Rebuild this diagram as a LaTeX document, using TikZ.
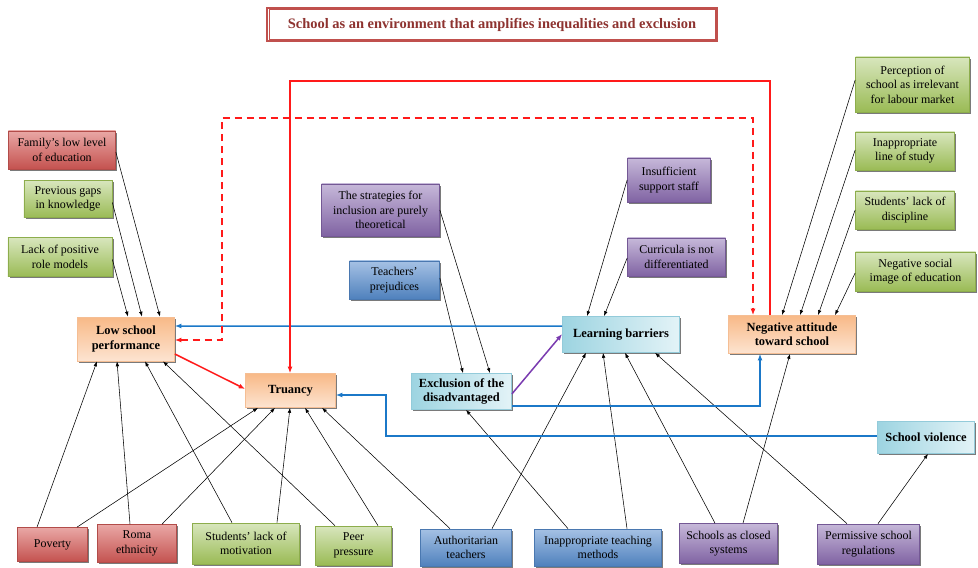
\documentclass[tikz,border=0pt]{standalone}
\usepackage{fontspec}
\setmainfont{Liberation Serif}
\usetikzlibrary{arrows.meta,shadows,calc}
\definecolor{redT}{HTML}{E9A7A5}
\definecolor{redM}{HTML}{C4524F}
\definecolor{redB}{HTML}{B24C49}
\definecolor{grnT}{HTML}{D8E6BD}
\definecolor{grnM}{HTML}{9ABB55}
\definecolor{grnB}{HTML}{8DAD4C}
\definecolor{purT}{HTML}{C6B8D9}
\definecolor{purM}{HTML}{8063A3}
\definecolor{purB}{HTML}{745895}
\definecolor{bluT}{HTML}{A5C1E4}
\definecolor{bluM}{HTML}{4F81BD}
\definecolor{bluB}{HTML}{4A78B0}
\definecolor{cyD}{HTML}{9DD4E1}
\definecolor{cyL}{HTML}{E3F3F7}
\definecolor{cyB}{HTML}{93CBDA}
\definecolor{orD}{HTML}{F8B987}
\definecolor{orL}{HTML}{FDE4D1}
\definecolor{orB}{HTML}{F5BE94}
\definecolor{titleRed}{HTML}{C0504D}
\definecolor{titleTxt}{HTML}{8E3330}
\definecolor{flowBlue}{HTML}{1B78C8}
\definecolor{flowRed}{HTML}{FF1A1A}
\definecolor{flowPur}{HTML}{7A3BB0}
\begin{document}
\begin{tikzpicture}[x=1bp,y=-1bp,
  base/.style={rectangle, draw, line width=0.7bp, align=center, inner sep=1bp,
    font=\fontsize{12}{14.5}\selectfont,
    drop shadow={shadow xshift=1.8bp,shadow yshift=-1.8bp,fill=black!80,opacity=0.65}},
  redbox/.style={base, draw=redB, top color=redT, bottom color=redM},
  grnbox/.style={base, draw=grnB, top color=grnT, bottom color=grnM},
  purbox/.style={base, draw=purB, top color=purT, bottom color=purM},
  blubox/.style={base, draw=bluB, top color=bluT, bottom color=bluM},
  cybox/.style={base, draw=cyB, left color=cyD, right color=cyL,
    font=\fontsize{12.5}{14.5}\selectfont\bfseries},
  orbox/.style={base, draw=orB, top color=orD, bottom color=orL,
    font=\fontsize{12.5}{14.5}\selectfont\bfseries},
  conn/.style={-{Latex[length=5bp,width=3.6bp]}, line width=0.55bp, black},
  bflow/.style={-{Latex[length=6.5bp,width=5bp]}, line width=1.5bp, flowBlue},
  rflow/.style={-{Latex[length=6.5bp,width=5bp]}, line width=1.5bp, flowRed},
  rdflow/.style={{Latex[length=6.5bp,width=5bp]}-{Latex[length=6.5bp,width=5bp]}, line width=1.5bp, flowRed, dash pattern=on 7bp off 5bp},
  pflow/.style={-{Latex[length=6.5bp,width=5bp]}, line width=1.5bp, flowPur},
]
\useasboundingbox[fill=white] (0,0) rectangle (978,568);

% title
\node[draw=titleRed, line width=2.6bp, fill=white, minimum width=450bp, minimum height=33bp,
  text=titleTxt, font=\fontsize{14.5}{16}\selectfont\bfseries] (title) at (492,24.5)
  {School as an environment that amplifies inequalities and exclusion};
\draw[titleRed, line width=0.8bp] ([shift={(3.2bp,-3.2bp)}]title.north west) rectangle ([shift={(-3.2bp,3.2bp)}]title.south east);

% left column
\node[redbox, minimum width=107bp, minimum height=38bp] (fam) at (62,150) {Family’s low level\\of education};
\node[grnbox, minimum width=88bp, minimum height=37bp] (prev) at (68,199) {Previous gaps\\in knowledge};
\node[grnbox, minimum width=104bp, minimum height=39bp] (lack) at (60,257) {Lack of positive\\role models};
\node[orbox, minimum width=97bp, minimum height=44bp] (lsp) at (126,339) {Low school\\performance};
\node[orbox, minimum width=90bp, minimum height=34bp] (tru) at (290.5,390.5) {Truancy};

% middle
\node[purbox, minimum width=118bp, minimum height=52bp] (strat) at (380.5,210) {The strategies for\\inclusion are purely\\theoretical};
\node[blubox, minimum width=90bp, minimum height=38bp] (tprej) at (394.5,280) {Teachers’\\prejudices};
\node[cybox, minimum width=100bp, minimum height=36bp] (excl) at (461.5,391.5) {Exclusion of the\\disadvantaged};
\node[purbox, minimum width=83bp, minimum height=44bp] (insuf) at (669,180) {Insufficient\\support staff};
\node[purbox, minimum width=98bp, minimum height=38bp] (curr) at (676.5,257) {Curricula is not\\differentiated};
\node[cybox, minimum width=117bp, minimum height=36bp] (lb) at (621,334.5) {Learning barriers};
\node[orbox, minimum width=127bp, minimum height=38bp] (na) at (792,334.5) {Negative attitude\\toward school};

% right column
\node[grnbox, minimum width=114bp, minimum height=55bp] (perc) at (912.5,84.5) {Perception of\\school as irrelevant\\for labour market};
\node[grnbox, minimum width=99bp, minimum height=38bp] (inap) at (905,151) {Inappropriate\\line of study};
\node[grnbox, minimum width=99bp, minimum height=38bp] (disc) at (905,210) {Students’ lack of\\discipline};
\node[grnbox, minimum width=120bp, minimum height=39bp] (negsoc) at (915.5,271.5) {Negative social\\image of education};
\node[cybox, minimum width=97bp, minimum height=32bp] (sv) at (926,437.5) {School violence};

% bottom row
\node[redbox, minimum width=70bp, minimum height=34bp] (pov) at (52.5,544.5) {Poverty};
\node[redbox, minimum width=79bp, minimum height=38bp] (roma) at (137,543.5) {Roma\\ethnicity};
\node[grnbox, minimum width=107bp, minimum height=41bp] (stud) at (246,543.5) {Students’ lack of\\motivation};
\node[grnbox, minimum width=76bp, minimum height=39bp] (peer) at (353.5,545.5) {Peer\\pressure};
\node[blubox, minimum width=91bp, minimum height=37bp] (auth) at (466,547.5) {Authoritarian\\teachers};
\node[blubox, minimum width=127bp, minimum height=37bp] (itm) at (598,547.5) {Inappropriate teaching\\methods};
\node[purbox, minimum width=98bp, minimum height=40bp] (closed) at (728.5,543.5) {Schools as closed\\systems};
\node[purbox, minimum width=102bp, minimum height=40bp] (perm) at (868.5,544) {Permissive school\\regulations};

% black connectors
\draw[conn] ([yshift=-2bp]fam.east) -- ([xshift=34bp]lsp.north);
\draw[conn] ([yshift=-3.5bp]prev.east) -- ([xshift=16bp]lsp.north);
\draw[conn] ([yshift=-2.5bp]lack.east) -- ([xshift=2bp]lsp.north);
\draw[conn] ([xshift=-15.5bp]pov.north) -- ([xshift=-29bp]lsp.south);
\draw[conn] ([xshift=-7bp]roma.north) -- ([xshift=-9bp]lsp.south);
\draw[conn] ([xshift=-14bp]stud.north) -- ([xshift=19bp]lsp.south);
\draw[conn] ([xshift=-18.5bp]peer.north) -- ([xshift=37bp]lsp.south);
\draw[conn] ([xshift=24.5bp]pov.north) -- ([xshift=-32.5bp]tru.south);
\draw[conn] ([xshift=25bp]roma.north) -- ([xshift=-15.5bp]tru.south);
\draw[conn] ([xshift=31bp]stud.north) -- ([xshift=-0.5bp]tru.south);
\draw[conn] ([xshift=24.5bp]peer.north) -- ([xshift=14.5bp]tru.south);
\draw[conn] ([xshift=-16bp]auth.north) -- ([xshift=31.5bp]tru.south);
\draw[conn] ([xshift=26bp]auth.north) -- ([xshift=-35bp]lb.south);
\draw[conn] ([xshift=-30bp]itm.north) -- ([xshift=4.5bp]excl.south);
\draw[conn] ([xshift=29bp]itm.north) -- ([xshift=-18bp]lb.south);
\draw[conn] ([xshift=-13.5bp]closed.north) -- ([xshift=4bp]lb.south);
\draw[conn] ([xshift=14.5bp]closed.north) -- ([xshift=-2bp]na.south);
\draw[conn] ([xshift=-21.5bp]perm.north) -- ([xshift=34bp]lb.south);
\draw[conn] ([xshift=9.5bp]perm.north) -- ([xshift=2bp]sv.south);
\draw[conn] (strat.east) -- ([xshift=28.5bp]excl.north);
\draw[conn] ([yshift=2bp]tprej.east) -- ([xshift=1.5bp]excl.north);
\draw[conn] (insuf.west) -- ([xshift=-34bp]lb.north);
\draw[conn] ([yshift=-1bp]curr.west) -- ([xshift=-17bp]lb.north);
\draw[conn] ([yshift=4.5bp]perc.west) -- ([xshift=-10bp]na.north);
\draw[conn] ([yshift=1bp]inap.west) -- ([xshift=8bp]na.north);
\draw[conn] (disc.west) -- ([xshift=26bp]na.north);
\draw[conn] ([yshift=-1.5bp]negsoc.west) -- ([xshift=43bp]na.north);

% coloured flows
\draw[pflow] ([yshift=-2.5bp]excl.east) -- ([yshift=0.5bp]lb.west);
\draw[bflow] ([yshift=8.5bp]lb.west) -- ([yshift=13bp]lsp.east);
\draw[bflow] ([yshift=-14.5bp]excl.east) -| ([xshift=-32bp]na.south);
\draw[bflow] ([yshift=1.5bp]sv.west) -- ++(-491bp,0) |- ([yshift=-4.5bp]tru.east);
\draw[rflow] ([xshift=-22bp]na.north) -- ++(0,-234) -| ([xshift=-0.5bp]tru.north);
\draw[rdflow] ([yshift=-1bp]lsp.east) -- ++(47bp,0) -- ++(0,-222) -| ([xshift=-39bp]na.north);
\draw[rflow] ([yshift=-15bp]lsp.east) -- ([yshift=1.5bp]tru.west);
\end{tikzpicture}
\end{document}
